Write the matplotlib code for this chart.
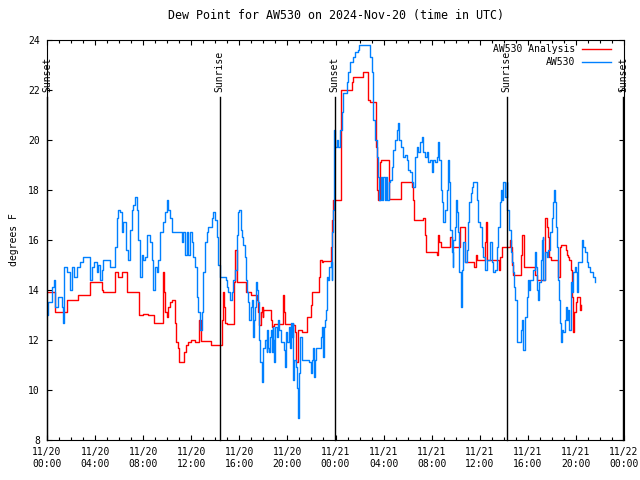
import matplotlib
matplotlib.use("Agg")
import matplotlib.pyplot as plt
from matplotlib.ticker import MultipleLocator, FuncFormatter
import datetime as dt

# hours since 2024-11-20 00:00 UTC
obs_t = [0.00, 0.11, 0.39, 0.58, 0.67, 0.94, 1.22, 1.30, 1.41, 1.64, 1.91, 2.05, 2.25, 2.52, 2.75,
         3.02, 3.58, 3.72, 3.91, 4.13, 4.27, 4.41, 4.55, 4.69, 5.24, 5.69, 5.80, 5.93, 6.07, 6.21,
         6.35, 6.57, 6.74, 6.90, 7.04, 7.18, 7.32, 7.46, 7.60, 7.74, 7.88, 8.01, 8.15, 8.29, 8.57,
         8.71, 8.85, 8.99, 9.12, 9.26, 9.40, 9.68, 9.82, 9.96, 10.09, 10.23, 10.37, 11.20, 11.34,
         11.48, 11.62, 11.76, 11.90, 12.04, 12.17, 12.31, 12.45, 12.59, 12.73, 12.87, 13.01, 13.14,
         13.28, 13.42, 13.70, 13.84, 13.98, 14.12, 14.25, 14.39, 14.89, 14.95, 15.09, 15.22, 15.36,
         15.50, 15.64, 15.78, 15.92, 16.00, 16.11, 16.22, 16.33, 16.45, 16.56, 16.67, 16.75, 16.83,
         16.94, 17.03, 17.11, 17.17, 17.22, 17.30, 17.39, 17.44, 17.58, 17.66, 17.72, 17.86, 17.91,
         18.00, 18.14, 18.27, 18.33, 18.41, 18.47, 18.55, 18.61, 18.69, 18.77, 18.83, 18.91, 18.97,
         19.11, 19.25, 19.33, 19.44, 19.72, 19.80, 19.88, 19.99, 20.10, 20.22, 20.27, 20.38, 20.44,
         20.49, 20.58, 20.69, 20.83, 20.91, 20.97, 21.05, 21.19, 21.83, 21.94, 22.02, 22.10, 22.21,
         22.30, 22.38, 22.77, 22.85, 22.93, 23.04, 23.13, 23.21, 23.27, 23.32, 23.40, 23.49, 23.60,
         23.68, 23.74, 23.80, 23.88, 23.96, 24.10, 24.24, 24.38, 24.51, 24.65, 24.93, 25.07, 25.21,
         25.35, 25.49, 25.62, 25.76, 25.90, 25.98, 26.87, 27.01, 27.15, 27.29, 27.43, 27.57, 27.65,
         27.76, 27.87, 27.98, 28.09, 28.20, 28.31, 28.43, 28.54, 28.67, 28.81, 28.95, 29.09, 29.23,
         29.31, 29.42, 29.64, 29.78, 29.92, 30.06, 30.20, 30.34, 30.48, 30.61, 30.75, 30.89, 31.03,
         31.17, 31.31, 31.45, 31.59, 31.73, 31.86, 32.00, 32.14, 32.28, 32.42, 32.56, 32.65, 32.75,
         32.84, 32.97, 33.11, 33.25, 33.39, 33.47, 33.53, 33.67, 33.75, 33.81, 33.94, 34.03, 34.14,
         34.22, 34.30, 34.41, 34.50, 34.64, 34.78, 34.91, 35.05, 35.14, 35.25, 35.33, 35.47, 35.61,
         35.74, 35.88, 36.02, 36.16, 36.30, 36.44, 36.57, 36.85, 36.99, 37.13, 37.27, 37.41, 37.55,
         37.69, 37.77, 37.82, 37.96, 38.10, 38.24, 38.30, 38.46, 38.57, 38.66, 38.79, 38.85, 38.94,
         39.07, 39.13, 39.30, 39.41, 39.49, 39.57, 39.63, 39.77, 39.91, 40.04, 40.13, 40.18, 40.46,
         40.60, 40.68, 40.79, 40.88, 40.96, 41.07, 41.15, 41.24, 41.29, 41.43, 41.57, 41.71, 41.85,
         41.99, 42.12, 42.18, 42.26, 42.35, 42.46, 42.54, 42.62, 42.68, 42.76, 42.87, 42.96, 43.10,
         43.18, 43.29, 43.37, 43.46, 43.56, 43.65, 43.79, 43.93, 44.01, 44.12, 44.20, 44.48, 44.62,
         44.76, 44.90, 45.04, 45.17, 45.45, 45.59]
obs_v = [13.0, 13.5, 14.1, 14.4, 13.3, 13.7, 13.3, 12.7, 14.9, 14.7, 14.0, 14.9, 14.5, 14.9, 15.1,
         15.3, 14.4, 14.9, 15.1, 14.7, 15.0, 14.4, 14.8, 15.2, 14.9, 15.7, 16.9, 17.2, 17.1, 16.3,
         16.7, 15.6, 15.2, 16.4, 17.2, 17.4, 17.7, 17.2, 16.0, 14.5, 15.4, 15.2, 15.3, 16.2, 15.9,
         15.2, 14.0, 14.9, 14.7, 15.2, 16.3, 16.7, 17.1, 17.6, 17.2, 16.9, 16.3, 15.9, 16.3,
         15.4, 16.3, 15.4, 16.3, 15.9, 15.3, 14.9, 13.7, 13.1, 12.4, 13.1, 14.7, 15.9,
         16.3, 16.5, 16.9, 17.1, 16.8, 16.1, 15.0, 14.5, 14.4, 14.1, 13.9, 13.6, 13.9,
         14.4, 14.8, 16.2, 17.1, 17.2, 16.4, 16.1, 15.8, 15.3, 14.4, 13.9, 13.5, 12.8,
         13.3, 13.6, 13.2, 12.1, 12.8, 13.3, 14.3, 14.0, 13.5, 12.0, 11.1, 10.9, 10.3,
         11.7, 12.0, 11.5, 12.4, 11.7, 11.5, 12.1, 12.4, 11.5, 12.5, 12.0, 11.1, 12.5,
         12.1, 12.8, 12.4, 11.9, 11.6, 10.9, 12.3, 11.9, 12.5, 11.7, 12.7, 12.1, 12.7,
         10.4, 11.2, 10.9, 10.1, 8.9, 10.7, 12.1, 11.2, 11.1, 10.7, 11.2, 11.7, 10.5,
         11.2, 11.7, 12.1, 12.5, 11.3, 12.5, 12.8, 13.2, 14.1, 14.5, 14.4, 14.9, 15.1,
         14.4, 16.3, 17.2, 20.4, 19.7, 20.0, 19.7, 20.4, 21.1, 21.9, 22.3, 22.7, 23.1,
         23.1, 23.3, 23.5, 23.5, 23.6, 23.8, 23.3, 22.7, 20.8, 20.0, 19.3, 18.5, 17.6,
         18.5, 17.6, 18.5, 17.6, 18.5, 17.6, 18.3, 18.4, 18.9, 19.6, 20.0, 20.4, 20.7,
         20.0, 19.7, 19.3, 19.4, 19.2, 18.8, 18.7, 18.3, 18.1, 19.3, 19.7, 19.5, 19.9,
         20.1, 19.5, 19.3, 19.5, 19.1, 19.2, 18.7, 19.2, 19.1, 19.3, 19.9, 19.2, 18.0,
         17.5, 16.7, 17.2, 18.0, 19.2, 18.3, 16.4, 15.5, 14.9, 16.0, 16.5, 17.6, 17.1,
         16.3, 14.7, 13.3, 14.8, 15.9, 15.1, 15.6, 16.7, 17.5, 17.9, 18.1, 18.3, 18.3,
         17.6, 16.7, 16.5, 15.7, 15.3, 14.8, 15.2, 15.9, 15.1, 14.7, 14.8, 15.7, 16.5,
         17.5, 18.0, 17.6, 18.3, 17.7, 18.3, 17.2, 16.4, 15.5, 15.1, 14.7, 14.1, 13.6,
         12.7, 11.9, 11.9, 12.4, 12.8, 12.1, 11.6, 12.9, 13.7, 14.4, 14.0, 14.4, 14.8,
         15.5, 14.9, 14.0, 13.6, 14.3, 15.2, 16.0, 16.1, 14.4, 15.5, 15.3, 15.6, 16.3,
         16.9, 17.5, 18.0, 17.5, 16.5, 15.7, 14.4, 13.6, 12.7, 11.9, 12.4, 12.3, 12.8,
         13.3, 12.8, 13.2, 12.4, 14.3, 13.9, 14.7, 14.9, 14.7, 13.9, 15.1, 16.0, 15.7,
         15.5, 15.1, 14.9, 14.7, 14.5, 14.3]

ana_t = [0.00, 0.67, 1.64, 2.61, 3.58, 4.55, 4.69, 5.66, 5.93, 6.21, 6.68, 7.68, 8.01, 8.43, 8.93,
         9.62, 9.68, 9.76, 9.84, 9.96, 10.09, 10.23, 10.37, 10.65, 10.70, 10.93, 11.01, 11.40, 11.56,
         11.76, 11.95, 12.31, 12.67, 12.81, 13.62, 14.59, 14.67, 14.75, 14.84, 14.95, 15.56, 15.64,
         15.78, 16.56, 16.94, 17.50, 17.58, 17.66, 17.77, 17.86, 17.94, 18.00, 18.61, 18.69, 18.77,
         18.88, 19.61, 19.66, 19.75, 19.80, 20.49, 20.63, 20.72, 20.91, 21.19, 21.66, 21.96, 22.02,
         22.66, 22.71, 22.85, 22.99, 23.62, 23.68, 23.74, 23.82, 24.43, 25.40, 25.49, 26.32, 26.73,
         26.87, 27.37, 27.43, 27.57, 27.70, 27.76, 28.48, 29.42, 30.34, 30.42, 30.50, 31.31, 31.45,
         31.50, 32.42, 32.56, 32.65, 32.75, 33.53, 33.67, 34.36, 34.78, 35.52, 35.69, 35.74, 36.44,
         36.52, 36.63, 37.63, 37.69, 37.83, 38.52, 38.59, 38.66, 38.74, 39.41, 39.49, 39.71, 40.60,
         40.75, 41.43, 41.57, 41.65, 41.79, 41.90, 42.48, 42.54, 42.68, 42.80, 43.18, 43.29, 43.37,
         43.46, 43.56, 43.65, 43.73, 43.79, 43.87, 43.98, 44.07, 44.34, 44.40, 44.45]
ana_v = [13.9, 13.1, 13.6, 13.8, 14.3, 14.0, 13.9, 14.7, 14.5, 14.7, 13.9, 13.0, 13.05, 13.0, 12.7,
         13.9, 14.7, 13.9, 13.1, 12.9, 13.3, 13.5, 13.6, 12.7, 11.9, 11.7, 11.1, 11.5, 11.8,
         11.9, 12.0, 11.9, 12.8, 11.95, 11.8, 12.8, 13.9, 13.3, 12.7, 12.65, 14.3, 15.6,
         14.3, 13.9, 13.8, 13.6, 13.1, 12.6, 13.1, 13.3, 12.9, 13.2, 12.8, 12.5, 12.55,
         12.65, 13.2, 13.8, 13.1, 12.65, 12.6, 12.3, 11.1, 12.4, 12.3, 12.9, 13.4, 13.9,
         14.5, 15.2, 15.1, 15.15, 15.7, 16.1, 16.8, 17.6, 22.0, 22.3, 22.5, 22.7, 21.6,
         21.5, 19.7, 18.0, 17.6, 19.1, 19.2, 17.65, 18.3, 18.1, 17.6, 16.8, 16.9, 16.2,
         15.5, 15.4, 16.2, 15.9, 15.7, 16.1, 15.7, 16.5, 15.1, 14.9, 15.4, 15.2, 15.9,
         16.7, 15.2, 14.8, 15.3, 15.7, 16.0, 15.7, 15.0, 14.6, 15.4, 16.2, 14.9, 14.6,
         14.4, 16.9, 16.5, 16.1, 15.3, 15.2, 14.7, 14.5, 15.7, 15.8, 15.6, 15.4, 15.3,
         15.2, 14.8, 13.7, 12.7, 12.3, 13.1, 13.5, 13.7, 13.2, 13.4, 13.4]

sun_names = ["Sunset", "Sunrise", "Sunset", "Sunrise", "Sunset"]
sun_times = [0.0, 14.38, 23.93, 38.24, 47.92]

start = dt.datetime(2024, 11, 20)


def hour_label(h, pos):
    d = start + dt.timedelta(hours=h)
    return d.strftime("%m/%d\n%H:%M")


plt.rcParams['font.family'] = ['DejaVu Sans Mono']
plt.rcParams['font.size'] = 7

fig = plt.figure(figsize=(6.4, 4.8), dpi=100)
ax = fig.add_axes([47/640, 40/480, 577/640, 400/480])

ax.plot(ana_t, ana_v, color="#ff0000", lw=1.0, drawstyle="steps-post", label="AW530 Analysis")
ax.plot(obs_t, obs_v, color="#0080ff", lw=1.0, drawstyle="steps-post", label="AW530")

for name, t in zip(sun_names, sun_times):
    ax.plot([t, t], [8, 21.7], color="black", lw=1.0, clip_on=False)
    ax.text(t, 21.9, name, rotation=90, ha="center", va="bottom", fontsize=7)

ax.set_xlim(0, 48)
ax.set_ylim(8, 24)
ax.xaxis.set_major_locator(MultipleLocator(4))
ax.xaxis.set_minor_locator(MultipleLocator(1))
ax.xaxis.set_major_formatter(FuncFormatter(hour_label))
ax.yaxis.set_major_locator(MultipleLocator(2))
ax.tick_params(which="both", direction="in", top=True, right=True, width=0.8)
ax.tick_params(which="major", length=3.5, pad=5)
ax.tick_params(which="minor", length=2)
for s in ax.spines.values():
    s.set_linewidth(0.8)

ax.set_ylabel("degrees F", labelpad=7)
ax.set_title("Dew Point for AW530 on 2024-Nov-20 (time in UTC)", pad=15)

ax.legend(loc="upper right", bbox_to_anchor=(0.977, 0.99), frameon=False, markerfirst=False,
          borderpad=0, borderaxespad=0, handlelength=3.0, handletextpad=0.7, labelspacing=0.35)

fig.savefig("out.png")
